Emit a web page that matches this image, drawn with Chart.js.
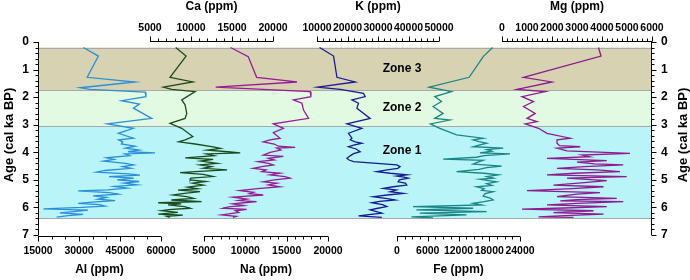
<!DOCTYPE html>
<html>
<head>
<meta charset="utf-8">
<script src="https://cdn.jsdelivr.net/npm/chart.js@4.4.1/dist/chart.umd.min.js"></script>
<style>
  html, body { margin: 0; padding: 0; background: #fff; }
  #grafico { display: block; }
</style>
</head>
<body>
<canvas id="grafico" width="690" height="280"></canvas>
<script>
// Dados (idade em ka BP, concentração em ppm)
const idadeAl = [0.2,0.51,1.28,1.45,1.66,1.72,1.82,1.98,2.13,2.25,2.40,2.77,2.97,3.13,3.31,3.49,3.55,3.62,3.70,3.78,3.85,3.92,3.98,4.02,4.06,4.12,4.20,4.26,4.32,4.40,4.46,4.52,4.58,4.66,4.72,4.78,4.83,4.88,4.94,5.00,5.06,5.12,5.18,5.24,5.30,5.36,5.40,5.46,5.52,5.58,5.64,5.70,5.75,5.80,5.85,5.90,5.95,6.00,6.05,6.10,6.15,6.20,6.25,6.30,6.35];
const valorAl = [31600,37100,33000,50500,30400,34000,54200,54500,45600,52100,49900,56600,40400,49900,44400,49900,44500,46000,45500,50500,47000,52000,48000,57800,46800,48500,40000,42800,39000,47000,50000,46000,49000,39500,36500,48000,52300,41000,50000,44000,52000,46500,51200,43000,47500,40500,29700,41000,44400,35200,40000,37000,43200,36000,29700,37500,39500,31000,17000,33300,28000,23000,31500,26000,21800];

const idadeCa = [0.2,0.51,1.28,1.45,1.64,1.72,1.80,2.10,2.28,2.59,2.77,2.95,3.13,3.43,3.55,3.62,3.70,3.80,3.86,3.92,3.98,4.02,4.06,4.12,4.20,4.26,4.32,4.40,4.46,4.52,4.58,4.64,4.70,4.74,4.80,4.88,4.94,5.00,5.06,5.12,5.19,5.26,5.32,5.37,5.43,5.49,5.55,5.61,5.67,5.73,5.79,5.83,5.87,5.91,5.97,6.03,6.08,6.12,6.18,6.24,6.28,6.32,6.36];
const valorCa = [8140,9400,7440,10220,6630,7650,10500,8870,9280,9480,9280,7440,8870,10220,9300,8500,10500,12700,13600,12000,14500,16000,11900,12800,9300,12700,11200,13200,11100,12500,11500,14400,10500,8670,11500,12700,10000,9900,11800,10200,11500,9600,10800,8420,11100,9200,7800,9500,10300,7600,11300,6000,8800,7200,9200,9900,7300,6400,8400,6000,9000,7000,7400];

const idadeNa = [0.2,0.53,1.28,1.45,1.64,1.80,1.98,2.10,2.22,2.47,2.77,2.97,3.13,3.29,3.49,3.55,3.62,3.70,3.78,3.82,3.85,3.92,4.00,4.10,4.15,4.22,4.28,4.34,4.40,4.46,4.52,4.58,4.64,4.70,4.76,4.82,4.88,4.94,5.00,5.07,5.12,5.18,5.25,5.32,5.39,5.45,5.50,5.55,5.60,5.63,5.70,5.75,5.79,5.84,5.87,5.93,5.98,6.03,6.07,6.12,6.18,6.24,6.27,6.32,6.36];
const valorNa = [8210,10350,11370,16240,6420,17850,17940,15820,16840,17040,17650,13390,14610,13390,14200,13000,12170,13500,14000,16030,13800,14300,13000,12170,14600,12800,13500,11560,12800,13390,12000,10940,12500,12000,14200,13000,14800,15420,13500,12170,13800,12800,14200,11500,9340,11000,10500,12170,9800,8500,10200,9200,11370,9500,8500,9800,8000,7300,10160,8800,9200,7800,7120,8900,8500];

const idadeK = [0.2,0.51,1.28,1.45,1.64,1.72,1.86,1.98,2.10,2.22,2.40,2.77,2.97,3.13,3.31,3.49,3.55,3.62,3.67,3.74,3.80,3.88,3.98,4.05,4.12,4.22,4.28,4.34,4.40,4.46,4.52,4.58,4.64,4.70,4.76,4.82,4.86,4.90,4.94,5.00,5.07,5.12,5.19,5.25,5.31,5.37,5.43,5.49,5.55,5.61,5.67,5.73,5.78,5.83,5.90,5.97,6.03,6.09,6.15,6.21,6.26,6.31,6.36];
const valorK = [10850,15430,16540,22520,10200,17620,25240,25790,21450,23600,23080,27430,19810,24720,20330,21450,20900,22500,24720,22000,20300,22800,24160,22000,21000,19810,20500,22000,29620,36160,37240,36500,33000,29620,34000,39430,36160,38500,39950,37000,36590,39000,39430,35000,31780,36000,34000,38320,33000,28510,32500,35600,30500,27980,31500,32890,30000,27430,29500,31260,27000,23610,31260];

const idadeFe = [0.2,0.53,1.28,1.64,1.80,1.98,2.16,2.34,2.59,2.77,2.83,2.97,3.13,3.37,3.49,3.55,3.61,3.67,3.74,3.80,3.85,3.90,3.96,4.02,4.06,4.12,4.18,4.25,4.29,4.36,4.43,4.50,4.56,4.62,4.70,4.76,4.82,4.88,4.94,4.98,5.07,5.14,5.20,5.25,5.32,5.38,5.43,5.50,5.59,5.66,5.73,5.79,5.85,5.91,5.97,6.03,6.09,6.15,6.21,6.27,6.34,6.38];
const valorFe = [18660,16820,14080,6260,10640,7370,8680,7040,9000,7370,10310,6530,8350,11620,16820,14860,16000,17490,16000,14860,20730,17500,18500,16180,22050,17000,15500,9000,16820,15800,14860,20420,17500,16000,11620,17000,19760,17500,18800,16180,19440,17500,18500,15530,17000,16500,18780,17200,16820,18200,18780,17000,14860,16500,3130,14860,3790,17490,4440,13570,2820,7000];

const idadeMg = [0.2,0.51,1.28,1.45,1.72,1.80,1.98,2.16,2.34,2.59,2.77,2.89,2.97,3.13,3.31,3.49,3.55,3.67,3.76,3.80,3.85,3.95,4.04,4.10,4.16,4.22,4.30,4.36,4.42,4.46,4.52,4.58,4.64,4.70,4.76,4.82,4.88,4.94,5.03,5.10,5.19,5.25,5.32,5.39,5.46,5.52,5.61,5.67,5.72,5.76,5.79,5.85,5.91,5.97,6.02,6.06,6.12,6.19,6.24,6.30,6.34,6.36];
const valorMg = [3860,3960,860,2000,600,1730,800,1260,860,1330,1000,1400,930,1460,1800,2730,2200,2200,2300,3130,2200,2600,5120,3200,3500,1800,4190,3000,3700,4850,3300,2200,3800,4720,2900,1800,4990,2600,4190,3300,2060,4060,2800,1000,3920,3000,2200,4590,3000,2330,4850,3000,1800,4190,2500,800,3660,2060,4060,2500,1460,2860];

// Rótulos dos eixos
const ticksAl = [15000, 30000, 45000, 60000];
const ticksCa = [5000, 10000, 15000, 20000];
const ticksNa = [5000, 10000, 15000, 20000];
const ticksK = [10000, 20000, 30000, 40000, 50000];
const ticksFe = [0, 6000, 12000, 18000, 24000];
const ticksMg = [0, 1000, 2000, 3000, 4000, 5000, 6000];
const ticksIdade = [0, 1, 2, 3, 4, 5, 6, 7];

// Zonas
const zonaNomes = ['Zone 3', 'Zone 2', 'Zone 1'];
const zonaTopo = [0.2, 1.75, 3.05];
const zonaBase = [1.75, 3.05, 6.4];
const zonaRotuloIdade = [0.975, 2.4, 3.95];

// Layout (pixels)
const AREA = { esq: 38, dir: 652, topo: 42, base: 235 };
const coresZona = ['#d7d3b2', '#e2f9e2', '#b8f4f8'];
const fonte = '"Liberation Sans", Arial, sans-serif';

const eixos = {
    xAl: { p0: 38, p1: 161, passo: 5000, lado: 'baixo', rotulos: ticksAl, titulo: 'Al (ppm)' },
    xCa: { p0: 150, p1: 273, passo: 1000, lado: 'topo', rotulos: ticksCa, titulo: 'Ca (ppm)' },
    xNa: { p0: 204, p1: 328, passo: 1000, lado: 'baixo', rotulos: ticksNa, titulo: 'Na (ppm)' },
    xK:  { p0: 317, p1: 439, passo: 2000, lado: 'topo', rotulos: ticksK, titulo: 'K (ppm)' },
    xFe: { p0: 397, p1: 520, passo: 1500, lado: 'baixo', rotulos: ticksFe, titulo: 'Fe (ppm)' },
    xMg: { p0: 502, p1: 652, passo: 200, lado: 'topo', rotulos: ticksMg, titulo: 'Mg (ppm)' }
};

function limites(e) {
    // escala cobre toda a área; o trecho visível fica entre p0 e p1
    const v0 = e.rotulos[0], v1 = e.rotulos[e.rotulos.length - 1];
    const s = (v1 - v0) / (e.p1 - e.p0);
    return { min: v0 - (e.p0 - AREA.esq) * s, max: v0 + (AREA.dir - e.p0) * s };
}

function serie(idades, valores) {
    return idades.map((a, i) => ({ x: valores[i], y: a }));
}

const series = [
    { id: 'xAl', dados: serie(idadeAl, valorAl), cor: '#2a8fd8' },
    { id: 'xCa', dados: serie(idadeCa, valorCa), cor: '#1b4a1b' },
    { id: 'xNa', dados: serie(idadeNa, valorNa), cor: '#961c96' },
    { id: 'xK',  dados: serie(idadeK, valorK), cor: '#1a1a92' },
    { id: 'xFe', dados: serie(idadeFe, valorFe), cor: '#1b8585' },
    { id: 'xMg', dados: serie(idadeMg, valorMg), cor: '#8e1a8e' }
];

const pluginZonas = {
    id: 'zonas',
    beforeDatasetsDraw(chart) {
        const ctx = chart.ctx, y = chart.scales.y;
        ctx.save();
        zonaNomes.forEach((n, i) => {
            const a = y.getPixelForValue(zonaTopo[i]);
            const b = y.getPixelForValue(zonaBase[i]);
            ctx.fillStyle = coresZona[i];
            ctx.fillRect(AREA.esq, a, AREA.dir - AREA.esq, b - a);
        });
        ctx.strokeStyle = '#a8a8a8';
        ctx.lineWidth = 1;
        [zonaTopo[0]].concat(zonaBase).forEach(v => {
            const p = Math.round(y.getPixelForValue(v)) + 0.5;
            ctx.beginPath();
            ctx.moveTo(AREA.esq, p);
            ctx.lineTo(AREA.dir, p);
            ctx.stroke();
        });
        ctx.restore();
    },
    afterDatasetsDraw(chart) {
        const ctx = chart.ctx, y = chart.scales.y;
        ctx.save();
        ctx.fillStyle = '#000';
        ctx.font = 'bold 12px ' + fonte;
        ctx.textAlign = 'center';
        ctx.textBaseline = 'middle';
        zonaNomes.forEach((n, i) => {
            ctx.fillText(n, 402, y.getPixelForValue(zonaRotuloIdade[i]));
        });
        ctx.restore();
    }
};

const pluginEixos = {
    id: 'eixos',
    afterDraw(chart) {
        const ctx = chart.ctx, y = chart.scales.y;
        ctx.save();
        ctx.strokeStyle = '#000';
        ctx.fillStyle = '#000';
        ctx.lineWidth = 1;

        // eixos de idade (esquerda e direita)
        [AREA.esq, AREA.dir].forEach((xe, k) => {
            const dirc = k === 0 ? -1 : 1;
            const x = xe + 0.5 * dirc * -1;
            ctx.beginPath();
            ctx.moveTo(x, y.getPixelForValue(0));
            ctx.lineTo(x, y.getPixelForValue(7));
            ctx.stroke();
            for (let i = 0; i <= 35; i++) {
                const v = i * 0.2;
                const p = Math.round(y.getPixelForValue(v)) + 0.5;
                const len = i % 5 === 0 ? 5 : 3;
                ctx.beginPath();
                ctx.moveTo(x, p);
                ctx.lineTo(x + dirc * len, p);
                ctx.stroke();
            }
            ctx.font = 'bold 12px ' + fonte;
            ctx.textBaseline = 'middle';
            ctx.textAlign = k === 0 ? 'right' : 'left';
            ticksIdade.forEach(v => {
                ctx.fillText(String(v), xe + dirc * 9, y.getPixelForValue(v));
            });
            ctx.save();
            ctx.translate(k === 0 ? 9 : 683, 135);
            ctx.rotate(-Math.PI / 2);
            ctx.textAlign = 'center';
            ctx.font = 'bold 13px ' + fonte;
            ctx.fillText('Age (cal ka BP)', 0, 0);
            ctx.restore();
        });

        // eixos de concentração
        Object.keys(eixos).forEach(id => {
            const e = eixos[id], s = chart.scales[id];
            const topo = e.lado === 'topo';
            const yl = topo ? AREA.topo - 0.5 : AREA.base + 1.5;
            const dirc = topo ? -1 : 1;
            const v0 = e.rotulos[0], v1 = e.rotulos[e.rotulos.length - 1];
            ctx.beginPath();
            ctx.moveTo(s.getPixelForValue(v0), yl);
            ctx.lineTo(s.getPixelForValue(v1), yl);
            ctx.stroke();
            const n = Math.round((v1 - v0) / e.passo);
            for (let i = 0; i <= n; i++) {
                const v = v0 + i * e.passo;
                const maior = e.rotulos.some(r => Math.abs(r - v) < 1e-6);
                const p = Math.round(s.getPixelForValue(v)) + 0.5;
                ctx.beginPath();
                ctx.moveTo(p, yl);
                ctx.lineTo(p, yl + dirc * (maior ? 5 : 3));
                ctx.stroke();
            }
            ctx.font = 'bold 10.5px ' + fonte;
            ctx.textAlign = 'center';
            ctx.textBaseline = 'middle';
            e.rotulos.forEach(v => {
                ctx.fillText(String(v), s.getPixelForValue(v), topo ? 28 : 251);
            });
            ctx.font = 'bold 12px ' + fonte;
            ctx.fillText(e.titulo, (s.getPixelForValue(v0) + s.getPixelForValue(v1)) / 2, topo ? 7 : 270);
        });
        ctx.restore();
    }
};

const escalas = {
    y: { type: 'linear', min: 0, max: 7, reverse: true, display: false }
};
Object.keys(eixos).forEach(id => {
    const l = limites(eixos[id]);
    escalas[id] = { type: 'linear', axis: 'x', position: 'bottom', min: l.min, max: l.max, display: false };
});

new Chart(document.getElementById('grafico'), {
    type: 'scatter',
    data: {
        datasets: series.map(s => ({
            data: s.dados,
            xAxisID: s.id,
            yAxisID: 'y',
            showLine: true,
            borderColor: s.cor,
            backgroundColor: s.cor,
            borderWidth: 1.3,
            pointRadius: 0,
            tension: 0
        }))
    },
    options: {
        responsive: false,
        animation: false,
        layout: { padding: { left: AREA.esq, right: 690 - AREA.dir, top: AREA.topo, bottom: 280 - AREA.base } },
        scales: escalas,
        plugins: {
            legend: { display: false },
            tooltip: { enabled: false }
        }
    },
    plugins: [pluginZonas, pluginEixos]
});
</script>
</body>
</html>
